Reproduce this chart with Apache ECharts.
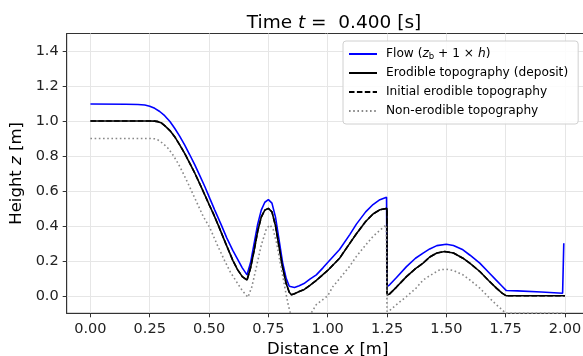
<!DOCTYPE html>
<html>
<head>
<meta charset="utf-8">
<script src="https://cdn.jsdelivr.net/npm/echarts@6/dist/echarts.min.js"></script>
<style>
html,body{margin:0;padding:0;background:#fff;}
#c{width:583px;height:356px;}
</style>
</head>
<body>
<div id="c"></div>
<script>
// ---- data ----
var xTicks = [0, 0.25, 0.5, 0.75, 1.0, 1.25, 1.5, 1.75, 2.0];
var yTicks = [0, 0.2, 0.4, 0.6, 0.8, 1.0, 1.2, 1.4];

var flowX = [0, 0.15, 0.20, 0.229, 0.25, 0.271, 0.292, 0.313, 0.335, 0.355, 0.376, 0.397, 0.418, 0.44, 0.46, 0.482, 0.503, 0.524, 0.55, 0.575, 0.60, 0.62, 0.64, 0.66, 0.675, 0.69, 0.705, 0.72, 0.735, 0.75, 0.765, 0.78, 0.795, 0.81, 0.825, 0.838, 0.843, 0.86, 0.88, 0.90, 0.925, 0.952, 0.98, 1.0, 1.05, 1.093, 1.121, 1.16, 1.191, 1.22, 1.248, 1.25, 1.261, 1.29, 1.332, 1.37, 1.402, 1.43, 1.46, 1.50, 1.53, 1.57, 1.60, 1.641, 1.68, 1.711, 1.735, 1.753, 1.80, 1.90, 1.99, 1.995];
var flowZ = [1.097, 1.095, 1.094, 1.091, 1.084, 1.072, 1.054, 1.03, 0.997, 0.958, 0.913, 0.863, 0.808, 0.749, 0.69, 0.625, 0.557, 0.49, 0.41, 0.33, 0.26, 0.21, 0.16, 0.12, 0.19, 0.30, 0.41, 0.49, 0.535, 0.55, 0.53, 0.45, 0.32, 0.19, 0.10, 0.055, 0.044, 0.048, 0.058, 0.07, 0.095, 0.12, 0.16, 0.19, 0.265, 0.35, 0.41, 0.48, 0.522, 0.55, 0.564, 0.053, 0.063, 0.105, 0.167, 0.215, 0.244, 0.268, 0.287, 0.295, 0.288, 0.263, 0.232, 0.187, 0.132, 0.088, 0.055, 0.03, 0.028, 0.022, 0.015, 0.30];

var erodX = [0, 0.25, 0.27, 0.285, 0.30, 0.313, 0.335, 0.355, 0.375, 0.397, 0.42, 0.44, 0.46, 0.482, 0.50, 0.517, 0.54, 0.57, 0.601, 0.62, 0.64, 0.66, 0.675, 0.69, 0.705, 0.72, 0.735, 0.75, 0.765, 0.78, 0.795, 0.81, 0.825, 0.838, 0.847, 0.86, 0.88, 0.90, 0.925, 0.952, 1.0, 1.05, 1.093, 1.121, 1.16, 1.191, 1.22, 1.25, 1.25, 1.261, 1.29, 1.332, 1.37, 1.402, 1.43, 1.46, 1.493, 1.53, 1.57, 1.60, 1.641, 1.68, 1.711, 1.735, 1.753, 2.0];
var erodZ = [1.0, 1.0, 0.999, 0.996, 0.988, 0.973, 0.945, 0.91, 0.866, 0.815, 0.755, 0.701, 0.643, 0.577, 0.522, 0.473, 0.40, 0.30, 0.20, 0.15, 0.11, 0.09, 0.16, 0.26, 0.37, 0.45, 0.49, 0.50, 0.48, 0.40, 0.28, 0.16, 0.07, 0.02, 0.006, 0.012, 0.025, 0.035, 0.06, 0.088, 0.145, 0.215, 0.30, 0.355, 0.425, 0.468, 0.492, 0.50, 0.005, 0.011, 0.05, 0.11, 0.155, 0.187, 0.222, 0.245, 0.253, 0.245, 0.215, 0.185, 0.139, 0.085, 0.044, 0.015, 0.0, 0.0];

var initX = erodX.slice();
var initZ = erodZ.slice();

var nonErodX = [0, 0.25, 0.27, 0.285, 0.305, 0.327, 0.348, 0.369, 0.39, 0.411, 0.432, 0.453, 0.475, 0.503, 0.535, 0.566, 0.59, 0.615, 0.64, 0.664, 0.68, 0.70, 0.72, 0.742, 0.757, 0.77, 0.785, 0.80, 0.815, 0.826, 0.835, 0.843, 0.87, 0.90, 0.93, 0.952, 1.0, 1.022, 1.051, 1.093, 1.121, 1.16, 1.191, 1.22, 1.247, 1.25, 1.26, 1.29, 1.332, 1.37, 1.402, 1.43, 1.472, 1.50, 1.53, 1.57, 1.60, 1.641, 1.68, 1.711, 1.735, 1.75, 2.0];
var nonErodZ = [0.9, 0.9, 0.898, 0.891, 0.872, 0.844, 0.805, 0.758, 0.703, 0.644, 0.582, 0.52, 0.455, 0.39, 0.29, 0.20, 0.135, 0.082, 0.03, -0.008, 0.05, 0.168, 0.29, 0.385, 0.405, 0.38, 0.30, 0.19, 0.08, 0.0, -0.06, -0.1, -0.14, -0.14, -0.1, -0.05, 0.0, 0.053, 0.10, 0.17, 0.225, 0.29, 0.34, 0.375, 0.405, -0.09, -0.085, -0.05, -0.004, 0.04, 0.09, 0.115, 0.149, 0.152, 0.145, 0.12, 0.09, 0.044, -0.01, -0.051, -0.08, -0.1, -0.1];

function pairs(xs, ys) { return xs.map(function (x, i) { return [x, ys[i]]; }); }

var FONT = 'DejaVu Sans';
var chart = echarts.init(document.getElementById('c'), null, {renderer: 'canvas'});
chart.setOption({
  animation: false,
  backgroundColor: '#fff',
  textStyle: {fontFamily: FONT},
  title: {
    text: 'Time {i|t} =  0.400 [s]',
    left: 329, top: 9, textAlign: 'center',
    textStyle: {
      fontFamily: FONT, fontSize: 18.5, fontWeight: 'normal', color: '#000',
      rich: {i: {fontFamily: FONT, fontSize: 18.5, fontStyle: 'italic', color: '#000'}}
    }
  },
  legend: {
    orient: 'vertical', left: 343, top: 41,
    padding: [6, 10, 6, 5], itemGap: 5, itemWidth: 28, itemHeight: 14,
    backgroundColor: 'rgba(255,255,255,0.85)', borderColor: '#d0d0d0', borderWidth: 1, borderRadius: 3,
    itemStyle: {color: 'transparent', borderColor: 'transparent', borderWidth: 0, opacity: 0},
    textStyle: {
      fontFamily: FONT, fontSize: 12.2, color: '#000', lineHeight: 14, padding: [0, 0, 0, 4],
      rich: {
        n: {fontFamily: FONT, fontSize: 12.2, color: '#000'},
        i: {fontFamily: FONT, fontSize: 12.2, fontStyle: 'italic', color: '#000'},
        s: {fontFamily: FONT, fontSize: 8.5, color: '#000', padding: [5, 0, 0, 0]}
      }
    },
    formatter: function (name) {
      if (name === 'flow') return '{n|Flow (}{i|z}{s|b}{n| + 1 × }{i|h}{n|)}';
      return name;
    },
    data: ['flow', 'Erodible topography (deposit)', 'Initial erodible topography', 'Non-erodible topography']
  },
  grid: {left: 66.7, top: 33.5, width: 522, bottom: 42.7, containLabel: false, outerBoundsMode: 'none',
    show: true, borderColor: '#333', borderWidth: 1, backgroundColor: '#fff'},
  xAxis: {
    type: 'value', min: -0.1, max: 2.1,
    name: '{n|Distance }{i|x}{n| [m]}', nameLocation: 'middle', nameGap: 27,
    nameTextStyle: {
      rich: {
        n: {fontFamily: FONT, fontSize: 16.5, color: '#000'},
        i: {fontFamily: FONT, fontSize: 16.5, fontStyle: 'italic', color: '#000'}
      }
    },
    axisLine: {show: true, onZero: false, lineStyle: {color: '#333', width: 1}},
    axisTick: {show: true, inside: false, length: 4, lineStyle: {color: '#333'}, customValues: xTicks},
    axisLabel: {fontFamily: FONT, fontSize: 14.5, color: '#222', margin: 8, customValues: xTicks,
      formatter: function (v) { return v.toFixed(2); }},
    splitLine: {show: true, lineStyle: {color: '#e6e6e6', width: 1}}
  },
  yAxis: {
    type: 'value', min: -0.1, max: 1.5,
    name: '{n|Height }{i|z}{n| [m]}', nameLocation: 'middle', nameGap: 34,
    nameTextStyle: {
      rich: {
        n: {fontFamily: FONT, fontSize: 16.5, color: '#000'},
        i: {fontFamily: FONT, fontSize: 16.5, fontStyle: 'italic', color: '#000'}
      }
    },
    axisLine: {show: true, onZero: false, lineStyle: {color: '#333', width: 1}},
    axisTick: {show: true, inside: false, length: 4, lineStyle: {color: '#333'}, customValues: yTicks},
    axisLabel: {fontFamily: FONT, fontSize: 14.5, color: '#222', margin: 8, customValues: yTicks,
      formatter: function (v) { return v.toFixed(1); }},
    splitLine: {show: true, lineStyle: {color: '#e6e6e6', width: 1}}
  },
  series: [
    {name: 'flow', type: 'line', data: pairs(flowX, flowZ), symbol: 'none', clip: true,
     lineStyle: {color: '#0000ff', width: 1.6}, itemStyle: {color: '#0000ff'}},
    {name: 'Erodible topography (deposit)', type: 'line', data: pairs(erodX, erodZ), symbol: 'none', clip: true,
     lineStyle: {color: '#000', width: 1.6}, itemStyle: {color: '#000'}},
    {name: 'Initial erodible topography', type: 'line', data: pairs(initX, initZ), symbol: 'none', clip: true,
     lineStyle: {color: '#000', width: 1.6, type: [5.5, 2.4]}, itemStyle: {color: '#000'}},
    {name: 'Non-erodible topography', type: 'line', data: pairs(nonErodX, nonErodZ), symbol: 'none', clip: true,
     lineStyle: {color: '#888', width: 1.6, type: [1.6, 2.6]}, itemStyle: {color: '#888'}}
  ]
});
</script>
</body>
</html>
